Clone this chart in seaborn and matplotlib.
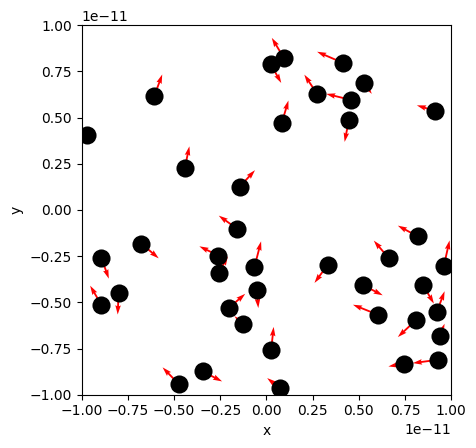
import numpy as np
import pandas as pd
import seaborn as sns
import matplotlib
matplotlib.use('Agg')
import matplotlib.pyplot as plt

# posicoes das particulas (em unidades de 1e-11)
x = [-0.969, -0.606, -0.442, -0.145, 0.022, 0.094, 0.413, 0.527, 0.274, 0.455,
     0.083, 0.446, 0.911, -0.157, -0.677, -0.260, -0.893, -0.258, -0.065, -0.800,
     -0.893, -0.053, -0.204, -0.128, 0.025, -0.345, -0.475, 0.072, 0.818, 0.661,
     0.960, 0.332, 0.521, 0.846, 0.603, 0.922, 0.807, 0.937, 0.927, 0.743]
y = [0.408, 0.619, 0.227, 0.125, 0.790, 0.823, 0.796, 0.688, 0.628, 0.596,
     0.471, 0.487, 0.536, -0.103, -0.182, -0.247, -0.260, -0.341, -0.309, -0.449,
     -0.514, -0.432, -0.531, -0.617, -0.760, -0.874, -0.942, -0.964, -0.143, -0.260,
     -0.302, -0.296, -0.406, -0.404, -0.567, -0.552, -0.598, -0.681, -0.811, -0.832]
# velocidades (setas)
u = [-0.030, 0.042, 0.025, 0.083, 0.058, -0.065, -0.139, 0.043, -0.069, -0.132,
     0.036, -0.023, -0.097, -0.101, 0.094, -0.103, 0.040, 0.049, 0.036, -0.005,
     -0.061, 0.009, 0.089, -0.045, 0.014, 0.105, -0.087, -0.068, -0.107, -0.080,
     0.031, -0.072, 0.108, 0.060, -0.135, 0.042, -0.096, 0.027, -0.135, -0.083]
v = [0.010, 0.114, 0.117, 0.090, -0.103, 0.108, 0.060, -0.060, 0.104, 0.032,
     0.121, -0.119, 0.030, 0.072, -0.080, 0.050, -0.112, 0.090, 0.139, -0.117,
     0.104, -0.099, 0.077, 0.042, 0.127, -0.054, 0.090, 0.054, 0.058, 0.094,
     0.137, -0.099, -0.056, -0.103, 0.054, 0.112, -0.090, 0.065, -0.018, -0.015]

escala = 1e-11
df = pd.DataFrame({'x': np.array(x) * escala, 'y': np.array(y) * escala,
                   'u': np.array(u) * escala, 'v': np.array(v) * escala})

fig, ax = plt.subplots(figsize=(6.4, 4.8))
ax.quiver(df['x'], df['y'], df['u'], df['v'], color='red',
          angles='xy', scale_units='xy', scale=1, width=0.005, zorder=1)
sns.scatterplot(data=df, x='x', y='y', color='black', s=170, linewidth=0,
                zorder=2, ax=ax)
ax.set_xlim(-1e-11, 1e-11)
ax.set_ylim(-1e-11, 1e-11)
ax.set_aspect('equal')
ax.set_xlabel('x')
ax.set_ylabel('y')
plt.savefig('out.png', dpi=100, bbox_inches='tight')
